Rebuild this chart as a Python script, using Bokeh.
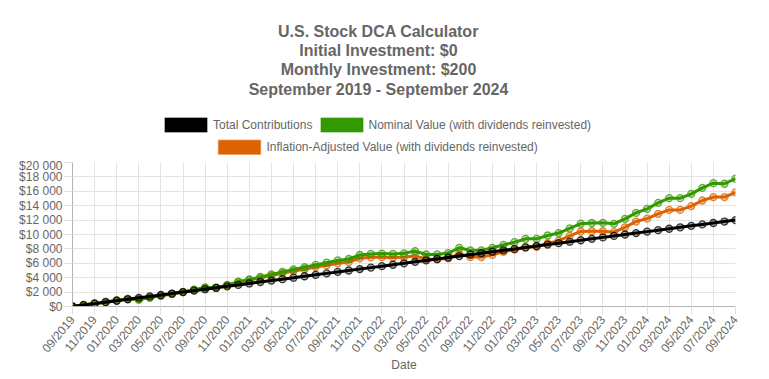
import math
from bokeh.plotting import figure
from bokeh.layouts import column
from bokeh.models import ColumnDataSource, FixedTicker, Range1d, Label
from bokeh.embed import file_html
from bokeh.resources import INLINE

# ---------------- data ----------------
months = [
    "09/2019", "10/2019", "11/2019", "12/2019",
    "01/2020", "02/2020", "03/2020", "04/2020", "05/2020", "06/2020", "07/2020", "08/2020",
    "09/2020", "10/2020", "11/2020", "12/2020",
    "01/2021", "02/2021", "03/2021", "04/2021", "05/2021", "06/2021", "07/2021", "08/2021",
    "09/2021", "10/2021", "11/2021", "12/2021",
    "01/2022", "02/2022", "03/2022", "04/2022", "05/2022", "06/2022", "07/2022", "08/2022",
    "09/2022", "10/2022", "11/2022", "12/2022",
    "01/2023", "02/2023", "03/2023", "04/2023", "05/2023", "06/2023", "07/2023", "08/2023",
    "09/2023", "10/2023", "11/2023", "12/2023",
    "01/2024", "02/2024", "03/2024", "04/2024", "05/2024", "06/2024", "07/2024", "08/2024",
    "09/2024",
]

total_contributions = [
    0, 200, 400, 600, 800, 1000, 1200, 1400, 1600, 1800, 2000, 2200,
    2400, 2600, 2800, 3000, 3200, 3400, 3600, 3800, 4000, 4200, 4400, 4600,
    4800, 5000, 5200, 5400, 5600, 5800, 6000, 6200, 6400, 6600, 6800, 7000,
    7200, 7400, 7600, 7800, 8000, 8200, 8400, 8600, 8800, 9000, 9200, 9400,
    9600, 9800, 10000, 10200, 10400, 10600, 10800, 11000, 11200, 11400, 11600, 11800,
    12000,
]

nominal_value = [
    0, 205, 420, 640, 850, 1060, 980, 1250, 1520, 1760, 2030, 2330,
    2640, 2620, 3000, 3440, 3750, 4100, 4450, 4800, 5150, 5450, 5780, 6080,
    6400, 6600, 7150, 7300, 7350, 7300, 7380, 7700, 7220, 7230, 7420, 8150,
    7780, 7800, 8150, 8550, 8930, 9400, 9400, 9860, 10200, 10850, 11500, 11600,
    11620, 11480, 12170, 13000, 13560, 14400, 15050, 15050, 15650, 16480, 17130, 17050,
    17750,
]

inflation_adjusted_value = [
    0, 205, 415, 635, 845, 1050, 970, 1240, 1500, 1740, 2000, 2290,
    2590, 2570, 2930, 3360, 3650, 3980, 4300, 4620, 4920, 5180, 5470, 5730,
    6000, 6180, 6700, 6830, 6850, 6800, 6850, 7000, 6600, 6550, 6700, 7300,
    6880, 6870, 7180, 7600, 7900, 8240, 8300, 8750, 9150, 9800, 10420, 10450,
    10450, 10320, 11000, 11800, 12200, 12870, 13420, 13420, 13950, 14720, 15200, 15200,
    15850,
]

y_ticks = [0, 2000, 4000, 6000, 8000, 10000, 12000, 14000, 16000, 18000, 20000]
y_tick_labels = ["$0", "$2 000", "$4 000", "$6 000", "$8 000", "$10 000",
                 "$12 000", "$14 000", "$16 000", "$18 000", "$20 000"]

title_lines = [
    "U.S. Stock DCA Calculator",
    "Initial Investment: $0",
    "Monthly Investment: $200",
    "September 2019 - September 2024",
]
series_names = [
    "Total Contributions",
    "Nominal Value (with dividends reinvested)",
    "Inflation-Adjusted Value (with dividends reinvested)",
]
x_title = "Date"

BLACK = "#000000"
GREEN = "#339900"
ORANGE = "#dd6200"
TEXT = "#666666"
FONT = "Liberation Sans"

W = 769
HEADER_H = 158
MAIN_H = 379 - HEADER_H
FRAME_L, FRAME_R, FRAME_T, FRAME_B = 72, 735, 162, 306

# ---------------- header (title + legend) ----------------
# bare figure; its coordinates are page pixels (y downwards)
hdr = figure(width=W, height=HEADER_H, output_backend="svg", toolbar_location=None,
             x_range=Range1d(FRAME_L, FRAME_R), y_range=Range1d(HEADER_H, 0),
             x_axis_type=None, y_axis_type=None, title=None,
             min_border_left=FRAME_L, min_border_right=W - FRAME_R,
             min_border_top=0, min_border_bottom=0)
hdr.grid.visible = False
hdr.outline_line_color = None
hdr.background_fill_color = "white"
hdr.border_fill_color = "white"

for line, cy in zip(title_lines, [31, 50, 69, 89]):
    hdr.add_layout(Label(x=378, y=cy, text=line, text_align="center",
                         text_baseline="middle", text_font=FONT,
                         text_font_size="16px", text_font_style="bold",
                         text_color=TEXT))

# legend swatches and texts: (name, color, box left, text left, centre y)
legend_layout = [
    (series_names[0], BLACK, 164.5, 212.5, 124.5),
    (series_names[1], GREEN, 320.5, 368.0, 124.5),
    (series_names[2], ORANGE, 218.0, 266.0, 146.7),
]
for name, color, bx, tx, cy in legend_layout:
    hdr.quad(left=bx, right=bx + 42, top=cy - 7, bottom=cy + 7,
             fill_color=color, line_color=color, line_alpha=0.45, line_width=1.5)
    hdr.add_layout(Label(x=tx, y=cy, text=name, text_align="left",
                         text_baseline="middle", text_font=FONT,
                         text_font_size="12px", text_color=TEXT))

# ---------------- main chart ----------------
x_idx = list(range(len(months)))
src = ColumnDataSource(dict(
    x=x_idx,
    total=total_contributions,
    nominal=nominal_value,
    real=inflation_adjusted_value,
))

p = figure(width=W, height=MAIN_H, output_backend="svg", toolbar_location=None,
           x_range=Range1d(0, len(months) - 1), y_range=Range1d(0, 20000),
           min_border_left=FRAME_L, min_border_right=W - FRAME_R,
           min_border_top=FRAME_T - HEADER_H, min_border_bottom=379 - FRAME_B,
           title=None)
p.outline_line_color = None
p.background_fill_color = "white"
p.border_fill_color = "white"

# series: drawn so that the first dataset ends on top
for col, color in [("real", ORANGE), ("nominal", GREEN), ("total", BLACK)]:
    p.line("x", col, source=src, line_color=color, line_width=3)
    p.scatter("x", col, source=src, size=7, marker="circle",
              fill_color=color, fill_alpha=0.3, line_color=color,
              line_alpha=0.75, line_width=1.3)

even = x_idx[::2]
p.xaxis.ticker = FixedTicker(ticks=even)
p.xaxis.major_label_overrides = {i: months[i] for i in even}
p.xaxis.major_label_orientation = 50 * math.pi / 180
p.yaxis.ticker = FixedTicker(ticks=y_ticks)
p.yaxis.major_label_overrides = {v: s for v, s in zip(y_ticks, y_tick_labels)}

for ax in (p.xaxis[0], p.yaxis[0]):
    ax.axis_line_color = "#b3b3b3"
    ax.axis_line_width = 1
    ax.major_tick_line_color = "#e0e0e0"
    ax.major_tick_out = 8
    ax.major_tick_in = 0
    ax.minor_tick_line_color = None
    ax.major_label_text_font = FONT
    ax.major_label_text_font_size = "12px"
    ax.major_label_text_color = TEXT
p.xaxis.major_label_standoff = 3
p.yaxis.major_label_standoff = 2
p.xaxis.axis_label = x_title
p.xaxis.axis_label_text_font = FONT
p.xaxis.axis_label_text_font_size = "12px"
p.xaxis.axis_label_text_font_style = "normal"
p.xaxis.axis_label_text_color = TEXT
p.xaxis.axis_label_standoff = -5

p.xgrid.grid_line_color = "#e3e3e3"
p.ygrid.grid_line_color = "#e3e3e3"

layout = column(hdr, p, spacing=0)
open("out.html", "w").write(file_html(layout, INLINE))
